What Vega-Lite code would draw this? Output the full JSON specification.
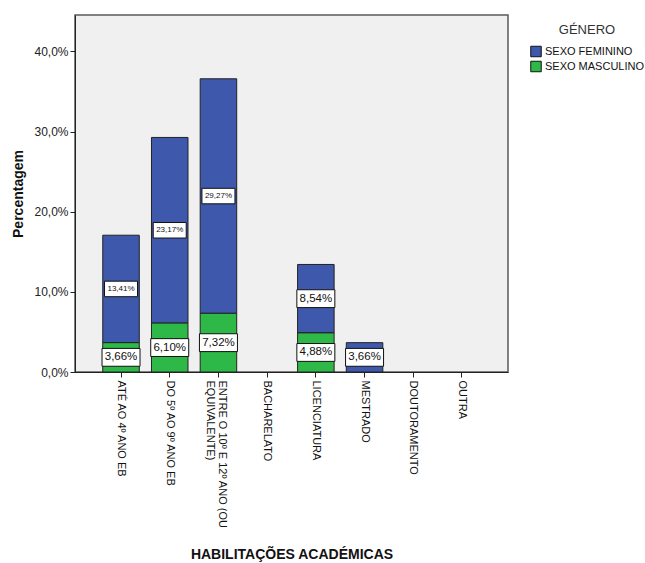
{
  "$schema": "https://vega.github.io/schema/vega-lite/v6.json",
  "autosize": {"type": "none"},
  "width": 433,
  "height": 357,
  "padding": {"left": 75, "top": 15, "right": 137, "bottom": 191},
  "background": "white",
  "config": {
    "locale": {"number": {"decimal": ",", "thousands": ".", "grouping": [3], "currency": ["", " €"]}},
    "font": "Liberation Sans",
    "view": {"fill": "#f0f0f0", "stroke": "#5a5a5a", "strokeWidth": 1.5}
  },
  "data": {
    "values": [
      {"hab": "ATÉ AO 4º ANO EB", "genero": "SEXO FEMININO", "pct": 0.1341},
      {"hab": "ATÉ AO 4º ANO EB", "genero": "SEXO MASCULINO", "pct": 0.0366},
      {"hab": "DO 5º AO 9º ANO EB", "genero": "SEXO FEMININO", "pct": 0.2317},
      {"hab": "DO 5º AO 9º ANO EB", "genero": "SEXO MASCULINO", "pct": 0.0610},
      {"hab": "ENTRE O 10º E 12º ANO (OU EQUIVALENTE)", "genero": "SEXO FEMININO", "pct": 0.2927},
      {"hab": "ENTRE O 10º E 12º ANO (OU EQUIVALENTE)", "genero": "SEXO MASCULINO", "pct": 0.0732},
      {"hab": "BACHARELATO", "genero": "SEXO FEMININO", "pct": 0},
      {"hab": "BACHARELATO", "genero": "SEXO MASCULINO", "pct": 0},
      {"hab": "LICENCIATURA", "genero": "SEXO FEMININO", "pct": 0.0854},
      {"hab": "LICENCIATURA", "genero": "SEXO MASCULINO", "pct": 0.0488},
      {"hab": "MESTRADO", "genero": "SEXO FEMININO", "pct": 0.0366},
      {"hab": "MESTRADO", "genero": "SEXO MASCULINO", "pct": 0},
      {"hab": "DOUTORAMENTO", "genero": "SEXO FEMININO", "pct": 0},
      {"hab": "DOUTORAMENTO", "genero": "SEXO MASCULINO", "pct": 0},
      {"hab": "OUTRA", "genero": "SEXO FEMININO", "pct": 0},
      {"hab": "OUTRA", "genero": "SEXO MASCULINO", "pct": 0}
    ]
  },
  "transform": [
    {"stack": "pct", "groupby": ["hab"], "sort": [{"field": "genero", "order": "descending"}], "as": ["lo", "hi"]},
    {"filter": "datum.pct > 0"},
    {"calculate": "(datum.lo + datum.hi) / 2", "as": "labelPos"}
  ],
  "encoding": {
    "x": {
      "field": "hab",
      "type": "nominal",
      "sort": null,
      "scale": {
        "domain": ["ATÉ AO 4º ANO EB", "DO 5º AO 9º ANO EB", "ENTRE O 10º E 12º ANO (OU EQUIVALENTE)", "BACHARELATO", "LICENCIATURA", "MESTRADO", "DOUTORAMENTO", "OUTRA"],
        "paddingInner": 0.25,
        "paddingOuter": 0.57
      },
      "axis": {
        "title": "HABILITAÇÕES ACADÉMICAS",
        "labelAngle": 90,
        "labelAlign": "left",
        "labelBaseline": "middle",
        "labelFontSize": 11,
        "labelColor": "#111",
        "labelPadding": 3,
        "labelLimit": 0,
        "labelLineHeight": 12,
        "labelOffset": {"condition": {"test": "datum.value == 'ENTRE O 10º E 12º ANO (OU EQUIVALENTE)'", "value": 4}, "value": 0},
        "labelExpr": "datum.value == 'ENTRE O 10º E 12º ANO (OU EQUIVALENTE)' ? ['ENTRE O 10º E 12º ANO (OU', 'EQUIVALENTE)'] : datum.value",
        "tickSize": 5,
        "tickColor": "#222",
        "domainColor": "#222",
        "titleFontSize": 14,
        "titleFontWeight": "bold",
        "titleColor": "#111",
        "titleY": 186,
        "titleBaseline": "alphabetic"
      }
    }
  },
  "layer": [
    {
      "mark": {"type": "bar", "stroke": "#222", "strokeWidth": 1},
      "encoding": {
        "y": {
          "field": "lo",
          "type": "quantitative",
          "scale": {"domain": [0, 0.4455], "nice": false, "zero": true},
          "axis": {
            "title": "Percentagem",
            "format": ".1%",
            "values": [0, 0.1, 0.2, 0.3, 0.4],
            "grid": false,
            "tickSize": 5,
            "tickColor": "#222",
            "domainColor": "#222",
            "labelFontSize": 12,
            "labelColor": "#222",
            "labelPadding": 2,
            "titleFontSize": 14,
            "titleFontWeight": "bold",
            "titleColor": "#111",
            "titleX": -57,
            "titleBaseline": "middle"
          }
        },
        "y2": {"field": "hi"},
        "color": {
          "field": "genero",
          "type": "nominal",
          "scale": {"domain": ["SEXO FEMININO", "SEXO MASCULINO"], "range": ["#3e58ac", "#2eb848"]},
          "legend": {
            "orient": "none",
            "legendX": 455,
            "legendY": 9,
            "title": "GÉNERO",
            "titleFontSize": 13,
            "titleFontWeight": "normal",
            "titleColor": "#333",
            "titleAnchor": "middle",
            "titlePadding": 7,
            "symbolType": "square",
            "symbolSize": 110,
            "symbolStrokeColor": "#111",
            "symbolStrokeWidth": 1,
            "symbolOpacity": 1,
            "labelFontSize": 11,
            "labelColor": "#111",
            "labelOffset": 3,
            "rowPadding": 0,
            "clipHeight": 15,
            "padding": 0
          }
        }
      }
    },
    {
      "mark": {"type": "point", "shape": "M-1,-0.47H1V0.47H-1Z", "filled": true, "fill": "white", "stroke": "#111", "strokeWidth": 1, "opacity": 1},
      "encoding": {
        "y": {"field": "labelPos", "type": "quantitative"},
        "size": {"condition": {"test": "datum.pct >= 0.1", "value": 1089}, "value": 1444}
      }
    },
    {
      "mark": {"type": "text", "align": "center", "baseline": "middle", "color": "#111"},
      "encoding": {
        "y": {"field": "labelPos", "type": "quantitative"},
        "text": {"field": "pct", "type": "quantitative", "format": ".2%"},
        "size": {"condition": {"test": "datum.pct >= 0.1", "value": 8}, "value": 11.5}
      }
    }
  ]
}
